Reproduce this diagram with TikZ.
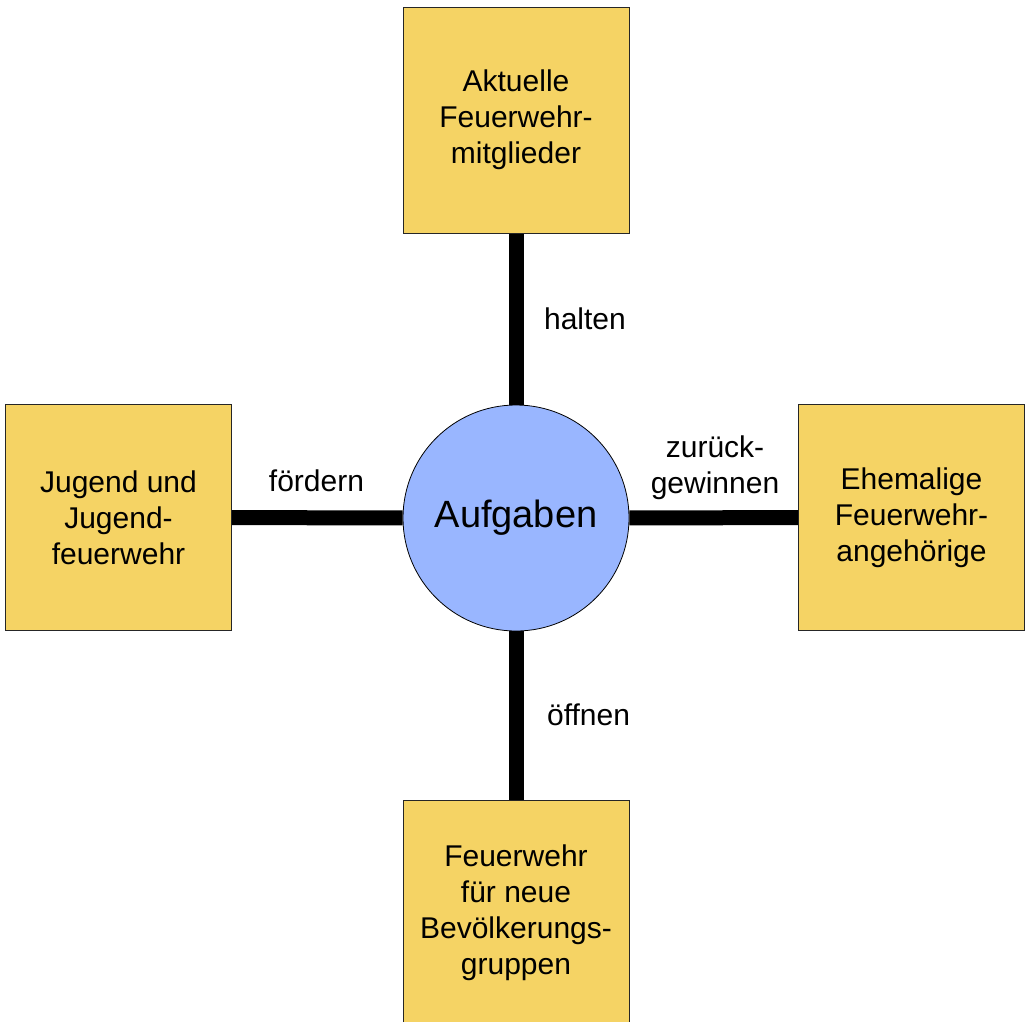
\documentclass[tikz,border=0pt]{standalone}
\usepackage{fontspec}
\setmainfont{Liberation Sans}
\definecolor{boxyellow}{RGB}{245,211,100}
\definecolor{circblue}{RGB}{153,182,255}
\begin{document}
\begin{tikzpicture}[x=1pt,y=-1pt,
  topic/.style={rectangle, draw=black!85, line width=1pt, fill=boxyellow,
    minimum width=226pt, minimum height=226pt, inner sep=0pt, align=center,
    font=\fontsize{30}{36}\selectfont},
  hub/.style={circle, draw=black, line width=0.8pt, fill=circblue,
    minimum size=226pt, inner sep=0pt, font=\fontsize{38}{44}\selectfont},
  conn/.style={line width=15pt, black, line cap=butt},
  lbl/.style={inner sep=0pt, align=center, anchor=base, font=\fontsize{30}{36}\selectfont}]
\useasboundingbox (0,0) rectangle (1027,1021);
\node[hub] (c) at (516,518) {Aufgaben};
\node[topic] (t) at (516,120) {Aktuelle\\Feuerwehr-\\mitglieder};
\node[topic] (l) at (118.5,517.5) {Jugend und\\Jugend-\\feuerwehr};
\node[topic] (r) at (911.5,517.5) {Ehemalige\\Feuerwehr-\\angehörige};
\node[topic] (b) at (516,913) {Feuerwehr\\für neue\\Bevölkerungs-\\gruppen};
\draw[conn] (t) -- (c);
\draw[conn] (l) -- (c);
\draw[conn] (r) -- (c);
\draw[conn] (b) -- (c);
\node[lbl] (lt) at (585,329) {halten};
\node[lbl] (ll) at (316.5,491) {fördern};
\node[lbl] (lr) at (715,493) {zurück-\\gewinnen};
\node[lbl] (lb) at (588.5,725) {öffnen};
\end{tikzpicture}
\end{document}
